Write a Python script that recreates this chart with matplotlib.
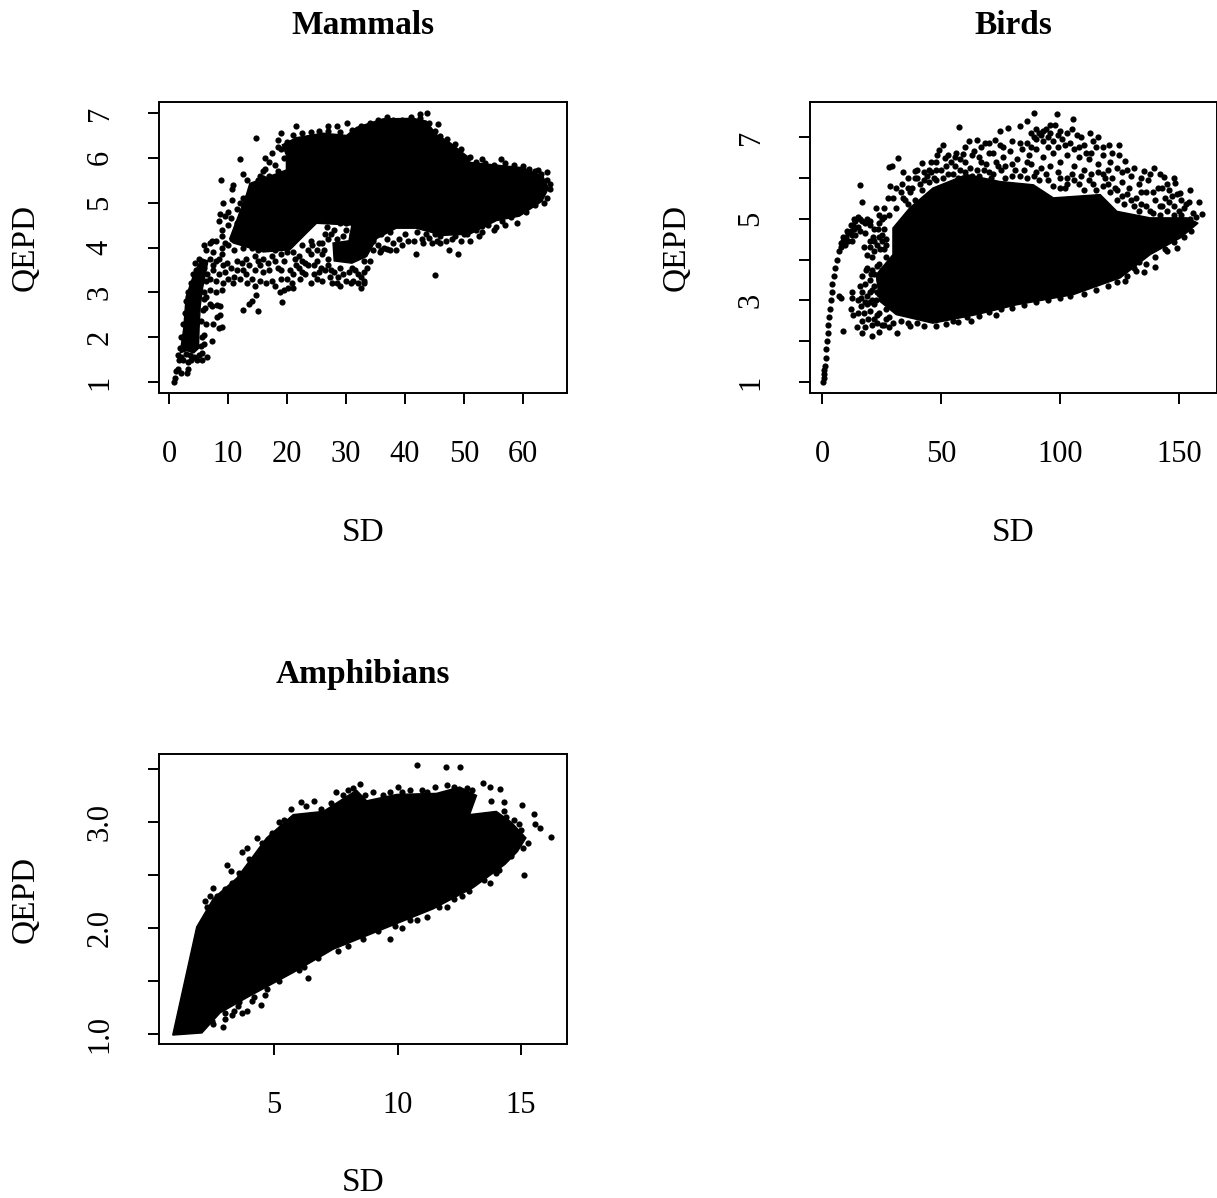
import matplotlib
matplotlib.use("Agg")
import matplotlib.pyplot as plt

plt.rcParams['font.family'] = ['Liberation Serif', 'DejaVu Serif']

W, H = 1217, 1198

mammals_core = [(10.3,4.2),(13.1,5.17),(13.7,5.43),(17.7,5.62),(19.9,5.73),(19.9,6.06),(19.2,6.29),
                (21.6,6.45),(26.1,6.55),(30.1,6.5),(31.8,6.68),(36.3,6.87),(41.4,6.88),(43.6,6.82),
                (45.3,6.52),(47.6,6.34),(50.4,6.05),(51,5.9),(56,5.83),(60,5.78),(63.4,5.58),
                (64.3,5.32),(63.2,5.03),(59.4,4.7),(55.5,4.6),(51,4.3),(46.4,4.27),(41.9,4.43),
                (38.5,4.43),(35.2,4.2),(33.5,3.8),(31,3.65),(28,3.7),(27.8,4.1),(30.5,4.15),(31,4.5),
                (25,4.54),(23.3,4.32),(20.5,3.95),(16,3.9),(10.9,4.1)]
mammals_arm = [(1.9,1.65),(2.5,2.2),(2.9,2.9),(4.2,3.4),(5.5,3.75),(6.6,3.7),(5.7,3.1),(5.3,2.7),(5.1,2.2),(5.0,1.75),(4.2,1.65),(3,1.7)]

mammals_pts = [(0.9,1.0),(1.0,1.08),(1.2,1.25),(1.6,1.28),(2,1.2),(3,1.2),(3.2,1.28),(1.7,1.5),(2.3,1.5),(3.3,1.45),
    (5.6,1.5),(5.6,1.65),(7.3,1.92),(8.4,2.2),(9,2.23),(7.5,2.3),(8.1,2.45),(8.6,2.5),(7.3,2.7),(7,2.75),(8.2,2.72),(8.6,2.7),
    (12.6,2.6),(13.5,2.75),(14,2.8),(14.8,2.95),(15,2.58),(19.2,2.78),(18.8,3.0),(19.5,3.05),(20.2,3.1),(20.8,3.2),(21,3.1),(22.2,3.3),
    (6,3.0),(7,3.05),(8,3.0),(9,3.05),(9.2,3.2),(10,3.3),(11,3.35),(12,3.3),(13,3.4),(14,3.3),(14.5,3.15),(15.5,3.25),(16.5,3.2),(17.5,3.25),(18,3.15),(19,3.3),
    (6.5,3.4),(7.5,3.5),(8.5,3.4),(9.2,3.6),(10.5,3.55),(11.5,3.7),(12.5,3.5),(13.5,3.6),(14.5,3.5),(15.5,3.6),(16,3.45),(17,3.5),(18.5,3.55),(19.5,3.7),(20.5,3.5),
    (21.5,3.6),(22.5,3.45),(23.5,3.6),(24.5,3.4),(25,3.3),(26,3.25),(25.7,3.55),(27.3,3.35),(27.7,3.2),(28,3.45),(29,3.55),(30,3.25),(30.8,3.2),(31.2,3.25),(32,3.2),(32.5,3.1),(33,3.2),(32.5,3.35),(33,3.45),(33,3.25),
    (21,3.9),(22,3.8),(23,3.65),(24,3.85),(25,3.7),(26,3.85),(26.2,3.95),(27,3.75),(24.3,4.05),(25.5,4.1),(26.5,4.3),(26.8,4.45),(28,4.4),(27,4.2),(30,4.4),(31,4.3),
    (6,4.05),(7,4.1),(7.3,4.15),(6.2,3.95),(8,4.15),(7.5,3.9),(9,4.0),(9.5,4.1),(8.9,4.25),(9,4.4),(10,4.5),(8.5,4.6),(9.5,4.7),(10.5,4.65),(11.5,4.55),(12.3,4.4),(11.5,4.85),(12.5,4.8),
    (10,4.8),(9.2,5.0),(10.7,5.05),(12,5.0),(13,5.1),(8.7,4.75),(10.7,5.3),(10.8,5.4),(12.5,5.1),(13,4.9),(8.8,5.5),(12.5,5.65),(13.2,5.5),(15,5.5),(15.5,5.6),(16,5.7),(16.3,5.75),(12,5.98),(14.7,6.45),
    (16.2,6.0),(17,5.9),(18,5.85),(17.5,6.1),(19,6.55),(18.5,6.4),(21.6,6.7),(27,6.72),(28.5,6.72),(30.2,6.78),(43.7,7.0),(42.5,6.98),(45.6,6.76),(51.1,6.02),(53,5.98),(56.3,5.98),(62.5,5.72),(64,5.68),(64.5,5.42),
    (59,4.55),(55.5,4.45),(53,4.35),(53,4.48),(50,4.3),(47.5,3.95),(49,3.85),(45,3.38),(41.8,3.85),(36,3.95),(37,3.97),(39.5,4.05),(44.5,4.1),(46,4.1),(37,4.2),(38,4.1),(43,4.1),(40,4.3),(36.5,4.0),
    (34.5,3.95),(35.5,4.05),(34,3.7),(33,3.7)]
mammals_edge = [(19,6.2),(18.4,6.25),(20,6.35),(21,6.5),(22.5,6.55),(24,6.58),(25.5,6.6),(27,6.6),(29,6.58),(31,6.62),(32.5,6.72),(34,6.78),(35.5,6.85),(37,6.9),(38,6.85),(39.5,6.85),(41,6.9),(42.5,6.88),(44,6.78),(45,6.6),(46,6.48),(47.2,6.42),(48.5,6.3),(49.5,6.2),(50.6,6.0),
    (52,5.9),(53.5,5.88),(55,5.85),(57,5.88),(58.5,5.85),(60,5.82),(61,5.75),(62,5.7),(63,5.65),(64,5.5),(64.6,5.3),(64,5.1),(63.5,5.0),(62,4.95),(60.5,4.8),(58,4.68),(56.5,4.6),(54,4.5),(52,4.4),(50.5,4.3),(48.5,4.25),(46,4.25),(45,4.3),(43.5,4.3),(42,4.35),
    (14.5,5.3),(13.8,5.2),(13.5,5.05),(13,4.8),(12,4.6),(11.5,4.35),(10.7,4.2),(10,4.05),(9,3.85),(8,3.7),(7.5,3.6),(4.5,3.5),(4,3.4),(3.7,3.2),(3.3,3.0),(2.9,2.8),(2.7,2.55),(2.3,2.3),(2.1,2.0),(1.9,1.75),(1.6,1.6),(2.1,1.55),(2.8,1.62),(3.5,1.6),(4.3,1.55),(5,1.6),(5.5,1.8),(5.6,2.0),(5.5,2.35),(5.8,2.6),(5.9,2.85),
    (15,5.45),(16,5.55),(17,5.6),(18.5,5.7),(19.5,6.0),(16,5.3),(15.5,4.9),(17,4.1),(15,3.95),(14,4.0),(12.5,4.0),(11,3.95),(20,3.9),(18,3.95),(19,3.85),(17.5,3.8),(16,3.75),(14.5,3.8),(13,3.75),(11.5,3.5),(9.8,3.65),(8.5,3.75),(7,3.75)]
mammals_lower = [(5,3.75),(4.4,3.65),(6,3.55),(7,3.3),(8,3.25),(9.5,3.45),(10.8,3.2),(12.3,3.65),(13.2,3.2),(15,3.7),(16.8,3.65),(18,3.7),(19,3.5),(20,3.3),(21,3.4),(22,3.55),(23,3.4),(24,3.2),(22.5,3.7),(21.3,3.75),
    (24.5,3.6),(25.5,3.45),(26.5,3.5),(27,3.6),(27.5,3.5),(28.7,3.35),(29.5,3.4),(30.5,3.45),(31.5,3.5),(32,3.4),(31,3.55),(33.5,3.55),(28.5,3.2),(29,3.15),(25,3.95),(26,4.1),(24,4.15),(23.5,3.95),(22.5,4.05),(27.5,4.3),(28.5,4.2),(29.5,4.25),(32,4.25),(32.8,4.2),(33.3,4.1),(29,4.55),
    (30,4.55),(33,4.45),(34,4.35),(35,4.35),(36,4.3),(37.5,4.35),(34.5,4.15),(35.7,3.9),(37.5,3.95),(38.5,3.95),(40.5,4.15),(41.5,4.15),(39,4.2),(42.8,4.2),(44,4.22),(45.5,4.15),(47,4.15),(48,4.2),(49.5,4.15),(51,4.15),(52.5,4.25),(55,4.4),(57,4.5),
    (4.8,3.3),(6.2,3.25),(5.2,3.55),(3.9,3.1),(6.3,2.9),(6.1,2.65),(6.2,2.3),(6.0,2.05),(5.9,1.85),(6.4,1.55),(4.8,1.5),(3.8,1.5)]

birds_core = [(29.8,4.77),(36.8,5.26),(46.6,5.75),(60.7,6.08),(74.7,5.91),(88.8,5.83),(97.2,5.51),(116.9,5.59),
              (123.9,5.18),(137.9,5.02),(153.4,5.02),(158,4.89),(150.6,4.53),(137.9,4.12),(125.3,3.55),
              (105.6,3.14),(81.7,2.89),(64.9,2.65),(46.6,2.44),(31.2,2.65),(24.2,2.98),(22.8,3.63),(29.8,4.12)]
birds_curve_low = [(0.6,1.0),(0.7,1.1),(0.8,1.2),(0.9,1.3)]
birds_curve = [(1.2,1.4),(1.5,1.6),(1.8,1.8),(2.1,2.0),(2.4,2.2),(2.7,2.4),(3.0,2.6),(3.3,2.8),(3.7,3.0),(4.0,3.2),(4.4,3.4),(4.9,3.6),
               (5.5,3.8),(6.2,4.0),(7,4.2),(8,4.4),(9,4.55),(10.5,4.7),(12,4.85),(13.5,5.0),(15,5.05),(9.5,4.35),(11,4.45),(12.5,4.6),(13.5,4.75),(15,4.8),(17,4.95),(19,5.0),
               (8,4.3),(9,4.45),(10,4.55),(11,4.65),(12,4.7),(13,4.85),(14,4.95),(16,5.0),(18,4.9),(20,4.95),(16,4.7),(14,4.6),(12.5,4.45)]
birds_pts = [(57.6,7.24),(89.2,7.58),(98.6,7.56),(105.3,7.45),(86,7.38),(83,7.26),(78.2,7.22),(74.7,7.14),(72.6,6.93),(74.7,6.81),(68.4,6.85),(65,6.93),(61.8,6.91),
    (50.8,6.81),(49.2,6.69),(48.5,6.57),(32,6.49),(29.5,6.3),(28.1,6.26),(34,6.14),(38.9,6.16),(42.1,6.36),(45.9,6.38),(51.5,6.49),(56.5,6.61),(59.3,6.58),(16,5.83),(16.7,5.4),
    (28.7,5.79),(27.7,5.51),(22.8,5.26),(33.7,5.86),(38.9,6),(112.4,7.1),(116.1,7),(120.4,6.81),(124.9,6.8),(124.6,6.55),(127.4,6.42),(128.1,6.2),(139.3,6.24),(135.1,6.16),
    (143.5,6.01),(147.8,6),(148.5,5.87),(150.6,5.63),(154.8,5.71),(158.3,5.42),(154,5.42),(159.7,5.11),(154.8,5),
    (88,7.1),(90,7.2),(92,7.05),(94,7.2),(96,7.1),(98,7.3),(90,6.95),(93,6.9),(95,7.0),(97,6.9),(99,7.05),(91,7.1),(89,7.0),(93,7.15),(96,7.3),(100,7.15),(101,6.95),(103,7.1),(105,7.2),(107,7.05),(109,7.0),(104,6.85),(106,6.7),
    (110,6.8),(113,6.6),(115,6.75),(118,6.55),(121,6.4),(116,6.35),(112,6.45),(108,6.5),(103,6.55),(100,6.4),(97,6.6),(93,6.5),(90,6.7),(87,6.55),(84,6.7),(82,6.45),(79,6.65),(76,6.5),(73,6.4),(70,6.6),(67,6.4),(64,6.65),(60,6.4),(56,6.3),(53,6.1),(50,6.2),(47,6.0),(44,6.05),(41,5.85),(37,5.65),(34,5.5),(31,5.25),(28,5.1),(25,5.0),
    (110,6.2),(105,6.1),(100,6.0),(95,5.95),(90,6.15),(85,6.2),(80,6.05),(75,6.2),(70,6.15),(65,6.2),(118,6.1),(122,6.0),(126,5.9),(130,6.05),(133,5.85),(137,5.95),(141,5.75),(145,5.85),(149,5.6),(124,5.7),(128,5.6),(132,5.5),(136,5.65),(140,5.45),(144,5.5),(148,5.3),(152,5.25),(156,5.15),(120,5.85),(114,5.85),(108,5.85),(102,5.75),
    (24,4.9),(22,4.75),(20,4.85),(18,4.65),(25,4.6),(27,4.5),(21.5,4.55),(20,4.3),(19,4.1),(22,4.2),(24.5,4.25),(27,4.05),(24,3.9),(21,3.75),(19,3.8),(17,3.6),(16,3.35),(18,3.4),(20,3.5),(22,3.35),(15,3.0),(12.5,3.2),(12.8,3.05),(17,3.2),(19,3.1),(16.5,2.85),(12,2.8),(13,2.65),(15,2.7),(17,2.5),(20,2.75),(22,2.9),(18,2.35),
    (8.7,2.26),(14.7,2.35),(16.7,2.2),(21,2.13),(23.9,2.22),(31.5,2.2),(36.8,2.36),(28,2.35),(26,2.4),(73.3,2.65),(62.8,2.49),(140,3.81),(135.4,3.69),(127.4,3.47),(130.9,3.79),(149.2,4.28),(7,3.1),(8,3.05),(55,2.5),(40,2.45),(145,4.2),(133,3.95)]
birds_band = [(35,5.45),(38,5.75),(40,6.0),(43,5.95),(45,6.2),(48,6.2),(52,6.3),(55,6.1),(58,6.2),(62,6.25),(66,6.05),(69,6.35),(72,6.1),(77,6.3),(81,6.2),(86,6.0),(88,6.35),(92,6.25),(96,6.3),(99,6.15),(103,6.0),(106,6.3),(109,6.05),(112,5.95),(116,6.15),(119,6.0),(123,5.75),(126,5.55),(129,5.75),(131,5.3),(134,5.35),(138,5.2),(142,5.3),(146,5.4),(150,5.2),(153,5.35),(157,5.05),
    (24,2.7),(27,2.55),(22,2.55),(25,2.4),(30,2.45),(33,2.5),(36,2.45),(43,2.38),(48,2.38),(52,2.42),(57,2.48),(61,2.58),(66,2.62),(70,2.72),(75,2.78),(80,2.82),(85,2.88),(90,2.95),(95,3.0),(100,3.05),(104,3.1),(110,3.15),(115,3.25),(120,3.35),(124,3.45),(128,3.6),(132,3.72),(136,3.9),(140,4.05),(144,4.25),(148,4.42),(152,4.55),(155,4.7),
    (27,4.35),(25,4.45),(26,4.75),(24,4.55),(23,4.35),(21,4.05),(22,3.65),(23,3.2),(21,3.0),(20,3.2),(24,3.5),(19.5,2.55),(21,2.4),(23,2.45),(19,2.9)]
birds_fill = [(36,5.75),(39,5.45),(42,5.7),(45,5.9),(48,5.95),(51,6.0),(54,6.4),(57,6.0),(60,6.15),(63,6.05),(66,6.5),(68,6.2),(71,6.0),(74,6.3),(77,6.0),(80,6.35),(83,6.05),(86,6.4),(89,6.05),(91,5.95),(94,6.1),(97,5.8),(100,5.75),(103,5.85),(106,5.95),(110,5.7),(113,6.1),(115,5.7),(118,5.8),(121,5.65),(124,5.45),(127,5.35),(130,5.45),(133,5.2),(136,5.3),(139,5.15),(142,5.1),(145,5.2),(148,5.1),(151,5.1),
    (60,6.75),(63,6.55),(67,6.75),(70,6.85),(72,6.6),(76,6.75),(80,6.9),(83,6.85),(86,6.85),(88,6.75),(95,6.75),(99,6.75),(102,6.8),(108,6.75),(111,6.6),(114,6.9),(118,6.75),(122,6.6),(120,6.2),(124,6.25),(126,6.15),(131,6.25),(134,6.0),(138,6.1),(142,6.1),(146,5.7),(134,5.65),(139,5.65),(143,5.75),(151,5.45),(147,5.55),(143,5.3),
    (36,6.0),(40,6.2),(43,6.15),(46,6.15),(48,6.4),(53,6.55),(56,6.5),(58,6.45),(26,5.25),(30,5.5),(31,5.75),(33,5.65),(36,5.35),(24,5.1),(26,5.05),(20,4.45),(17.5,4.3),(25,3.75),(23,3.85),(24,3.15),(22.5,3.0),(26,3.0),(27,2.8),(28,2.6),(20,2.95),(18,2.95),(17.5,2.7),(23,2.65),(20.5,3.65),(21,3.25),(18.5,3.75),(16.5,3.05),(22,4.45),(23.5,4.75),(26,4.25)]

amph_core = [(0.9,0.99),(1.87,2.01),(2.55,2.28),(3.49,2.47),(4.7,2.85),(5.78,3.07),(7,3.1),(7.67,3.2),(8.34,3.3),(8.75,3.2),
             (9.96,3.26),(11.58,3.27),(12.52,3.33),(13.2,3.25),(12.92,3.07),(14,3.1),(14.6,3.0),(15.2,2.85),(14.85,2.72),
             (14.35,2.6),(13.06,2.38),(11.44,2.18),(9.42,1.99),(7.4,1.8),(5.78,1.58),(4.03,1.36),(2.82,1.2),(2.08,1.01)]
amph_pts = [(10.77,3.54),(11.98,3.52),(12.52,3.52),(16.23,2.86),(15.75,2.94),(15.58,2.98),(15.53,3.08),(15.04,3.16),(14.33,3.19),(13.46,3.37),(13.73,3.33),(14.14,3.31),
    (15.12,2.5),(13.73,2.42),(11.2,2.1),(9.69,1.9),(6.39,1.53),(4.65,1.37),(4.46,1.27),(4.11,1.31),(3.56,1.26),(3.4,1.22),(3.7,1.2),(3.9,1.22),(2.95,1.07),(2.55,1.09),(3.0,1.14),(3.3,1.18),
    (3.11,2.59),(3.27,2.54),(3.71,2.72),(6.08,3.19),(2.2,2.25),(2.3,2.2),(2.55,2.38),(2.4,2.3),(3.9,2.75),(4.3,2.85),(5.4,3.02),(5.7,3.12),(6.3,3.15),(6.6,3.2),(7.5,3.28),(8,3.3),(8.5,3.36),(9.0,3.28),(9.4,3.25),(10,3.33),(10.5,3.3),(11,3.3),(11.5,3.33),(12,3.35),(13,3.3),
    (13.8,3.2),(14.4,3.05),(14.9,2.98),(15.3,2.8),(15.1,2.75),(5.5,1.6),(6,1.6),(7,1.78),(8,1.83),(10.2,2.0),(10.8,2.08),(12,2.2),(12.6,2.3),(14.1,2.55),
    (2.7,2.3),(3.0,2.37),(3.3,2.42),(3.6,2.52),(4.0,2.65),(4.5,2.8),(4.9,2.9),(5.2,3.0),(6.9,3.12),(7.3,3.18),(7.8,3.25),(8.2,3.32),(8.7,3.25),(9.7,3.28),(10.2,3.28),(11.2,3.28),(12.3,3.33),(12.8,3.32),(14.3,3.1),(14.7,3.02),(15,2.92),
    (14.6,2.68),(14,2.52),(13.5,2.45),(12.9,2.35),(12.3,2.27),(11.7,2.2),(10.5,2.08),(9.9,2.02),(9.2,1.97),(8.6,1.9),(7.6,1.78),(6.8,1.72),(6.2,1.63),(5.2,1.5),(4.7,1.42),(4.2,1.35),(3.6,1.3),(3,1.2),(2.5,1.12)]


def scale(lo_px, hi_px, lo_val, hi_val, px0, px1):
    per_px = (hi_val - lo_val) / (hi_px - lo_px)
    return lo_val + (px0 - lo_px) * per_px, lo_val + (px1 - lo_px) * per_px


def panel(box, title, xticks, xlabels, yticks, ylabels, xlim, ylim, title_y):
    l, t, r, b = box
    ax = fig.add_axes([l / W, 1 - b / H, (r - l) / W, (b - t) / H])
    ax.set_xlim(*xlim)
    ax.set_ylim(*ylim)
    ax.set_xticks(xticks, xlabels, fontsize=22)
    ax.set_yticks(yticks, ylabels, fontsize=22, rotation=90, va='center')
    ax.tick_params(length=8, width=1.4)
    ax.tick_params(axis='x', pad=26)
    ax.tick_params(axis='y', pad=24)
    for s in ax.spines.values():
        s.set_linewidth(1.4)
    fig.text((l + r) / 2 / W, 1 - (title_y + 1) / H, title, fontsize=24, fontweight='bold', ha='center', va='center')
    fig.text((l + r) / 2 / W, 1 - (title_y + 509) / H, 'SD', fontsize=24, ha='center', va='center')
    fig.text((l - 134) / W, 1 - (t + b) / 2 / H, 'QEPD', fontsize=24, rotation=90, ha='center', va='center')
    return ax


def dots(ax, pts):
    ax.scatter([p[0] for p in pts], [p[1] for p in pts], s=20, c='k', linewidths=0, clip_on=False)


def blob(ax, pts):
    ax.fill([p[0] for p in pts], [p[1] for p in pts], color='k', lw=1)


fig = plt.figure(figsize=(W / 100, H / 100), dpi=100)

ax1 = panel((159, 102, 567, 393), 'Mammals', list(range(0, 61, 10)), [str(v) for v in range(0, 61, 10)],
            list(range(1, 8)), [str(v) for v in range(1, 8)],
            scale(169, 523, 0, 60, 159, 567), scale(382, 113, 1, 7, 393, 102), 24)
blob(ax1, mammals_core)
blob(ax1, mammals_arm)
dots(ax1, mammals_pts)
dots(ax1, mammals_edge)
dots(ax1, mammals_lower)

ax2 = panel((810, 102, 1217, 393), 'Birds', [0, 50, 100, 150], ['0', '50', '100', '150'],
            list(range(1, 8)), ['1', '', '3', '', '5', '', '7'],
            scale(822, 1179, 0, 150, 810, 1217), scale(382, 137, 1, 7, 393, 102), 24)
blob(ax2, birds_core)
dots(ax2, birds_curve_low)
dots(ax2, birds_curve)
dots(ax2, birds_pts)
dots(ax2, birds_band)
dots(ax2, birds_fill)

ax3 = panel((159, 754, 567, 1044), 'Amphibians', [5, 10, 15], ['5', '10', '15'],
            [1.0, 1.5, 2.0, 2.5, 3.0, 3.5], ['1.0', '', '2.0', '', '3.0', ''],
            scale(274, 521, 5, 15, 159, 567), scale(1034, 822, 1.0, 3.0, 1044, 754), 674)
blob(ax3, amph_core)
dots(ax3, amph_pts)

fig.savefig('out.png', dpi=100)
